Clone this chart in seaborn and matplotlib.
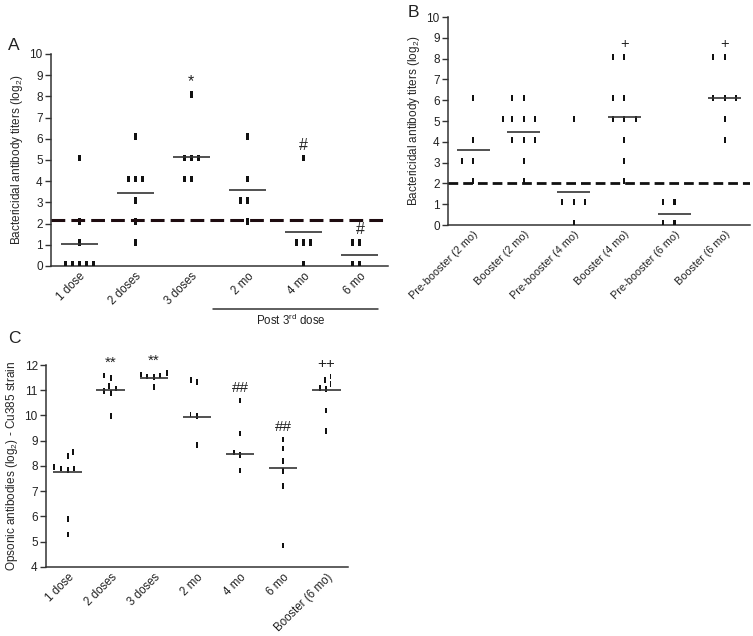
import numpy as np
import pandas as pd
import seaborn as sns
import matplotlib.pyplot as plt

# Panel A - bactericidal titers (log2), primary series and follow-up
groups_a = ['1 dose', '2 doses', '3 doses', '2 mo', '4 mo', '6 mo']
titers_a = [
    [0.1, 0.1, 0.1, 0.1, 0.1, 1.1, 2.1, 5.1],
    [1.1, 2.1, 3.1, 4.1, 4.1, 4.1, 6.1],
    [4.1, 4.1, 5.1, 5.1, 5.1, 8.1],
    [2.1, 3.1, 3.1, 4.1, 6.1],
    [0.1, 1.1, 1.1, 1.1, 5.1],
    [0.1, 0.1, 1.1, 1.1],
]
means_a = [1.03, 3.43, 5.16, 3.6, 1.61, 0.52]
marks_a = ['', '', '*', '', '#', '#']
cutoff_a = 2.15

# Panel B - bactericidal titers before / after booster
groups_b = ['Pre-booster (2 mo)', 'Booster (2 mo)', 'Pre-booster (4 mo)',
            'Booster (4 mo)', 'Pre-booster (6 mo)', 'Booster (6 mo)']
titers_b = [
    [2.1, 3.1, 3.1, 4.1, 6.1],
    [2.1, 3.1, 4.1, 4.1, 4.1, 5.1, 5.1, 5.1, 5.1, 6.1, 6.1],
    [0.1, 1.1, 1.1, 1.1, 5.1],
    [2.1, 3.1, 4.1, 5.1, 5.1, 5.1, 6.1, 6.1, 8.1, 8.1],
    [0.1, 0.1, 1.1, 1.1],
    [4.1, 5.1, 6.1, 6.1, 6.1, 8.1, 8.1],
]
means_b = [3.6, 4.49, 1.6, 5.17, 0.53, 6.11]
marks_b = ['', '', '', '+', '', '+']
cutoff_b = 2.0

# Panel C - opsonic antibodies (log2), Cu385 strain
groups_c = ['1 dose', '2 doses', '3 doses', '2 mo', '4 mo', '6 mo', 'Booster (6 mo)']
titers_c = [
    [8.55, 8.4, 7.9, 7.95, 7.85, 7.9, 5.9, 5.28],
    [11.58, 11.49, 11.16, 11.07, 10.96, 10.9, 9.97],
    [11.68, 11.62, 11.58, 11.55, 11.53, 11.12],
    [11.4, 11.32, 10.04, 9.97, 8.83],
    [10.59, 9.29, 8.53, 8.43, 7.83],
    [9.05, 8.7, 8.2, 7.8, 7.2, 4.85],
    [11.55, 11.4, 11.25, 11.09, 11.05, 10.2, 9.38],
]
means_c = [7.77, 11.0, 11.49, 9.95, 8.46, 7.92, 11.0]
marks_c = ['', '**', '**', '', '##', '##', '++']

sns.set_style('ticks')
plt.rcParams['font.family'] = ['Liberation Sans', 'DejaVu Sans']
plt.rcParams['mathtext.fontset'] = 'custom'
plt.rcParams['mathtext.rm'] = 'Liberation Sans'
plt.rcParams['mathtext.it'] = 'Liberation Sans:italic'
plt.rcParams['axes.edgecolor'] = '#333333'
plt.rcParams['axes.linewidth'] = 1.1
plt.rcParams['text.color'] = '#222222'


def long_df(groups, values):
    rows = [(g, v) for g, vals in zip(groups, values) for v in vals]
    return pd.DataFrame(rows, columns=['group', 'value'])


def draw_panel(ax, groups, values, means, marks, size, spread, bar_w, mark_size, mark_pad,
               xlab_size=8.3):
    df = long_df(groups, values)
    bar = [(-bar_w, -0.5), (bar_w, -0.5), (bar_w, 0.5), (-bar_w, 0.5)]
    sns.swarmplot(data=df, x='group', y='value', order=groups, ax=ax, color='#111111',
                  marker=bar, size=size, linewidth=spread, edgecolor='none', zorder=3)
    xs = np.arange(len(groups))
    ax.hlines(means, xs - 0.33, xs + 0.33, color='#333333', lw=1.2, zorder=4)
    for x, vals, m in zip(xs, values, marks):
        if m:
            ax.text(x, max(vals) + mark_pad, m, ha='center', va='center',
                    fontsize=mark_size, color='#222222', clip_on=False)
    ax.set_xlim(-0.5, len(groups) - 0.5)
    ax.set_xlabel('')
    ax.set_xticks(xs)
    ax.set_xticklabels(groups, rotation=45, ha='right', rotation_mode='anchor')
    ax.tick_params(axis='x', length=0, pad=3, labelsize=xlab_size, labelcolor='#222222')
    ax.tick_params(axis='y', length=4, width=1, color='#333333', labelsize=8.5,
                   labelcolor='#222222', pad=2)
    sns.despine(ax=ax)


fig = plt.figure(figsize=(7.53, 6.36), dpi=100)
ax_a = fig.add_axes([0.0677, 0.5818, 0.4475, 0.3333])
ax_b = fig.add_axes([0.595, 0.6462, 0.401, 0.327])
ax_c = fig.add_axes([0.0611, 0.1085, 0.401, 0.3176])

# A
draw_panel(ax_a, groups_a, titers_a, means_a, marks_a, size=4.8, spread=0.0,
           bar_w=0.22, mark_size=11.5, mark_pad=0.6)
ax_a.axhline(cutoff_a, color='#1e0c10', lw=2.2, ls=(0, (4.5, 2.0)), zorder=5)
ax_a.set_ylim(0, 10)
ax_a.set_yticks(range(0, 11))
ax_a.set_ylabel('Bactericidal antibody titers (log$_2$)', fontsize=8.5, labelpad=3)
ax_a.plot([2.39, 5.32], [-0.205, -0.205], color='#333333', lw=1.1,
          transform=ax_a.get_xaxis_transform(), clip_on=False)
ax_a.text(3.77, -0.22, 'Post 3$^{\\mathrm{rd}}$ dose', ha='center', va='top', fontsize=8.3,
          transform=ax_a.get_xaxis_transform())

# B
draw_panel(ax_b, groups_b, titers_b, means_b, marks_b, size=4.3, spread=3.5,
           bar_w=0.17, mark_size=10.5, mark_pad=0.62, xlab_size=7.8)
ax_b.axhline(cutoff_b, color='#111111', lw=2.0, ls=(0, (3.5, 1.8)), zorder=5)
ax_b.set_ylim(0, 10)
ax_b.set_yticks(range(0, 11))
ax_b.set_ylabel('Bactericidal antibody titers (log$_2$)', fontsize=8.5, labelpad=3)

# C
draw_panel(ax_c, groups_c, titers_c, means_c, marks_c, size=4.0, spread=0.6,
           bar_w=0.17, mark_size=11, mark_pad=0.5)
ax_c.set_ylim(4, 12)
ax_c.set_yticks(range(4, 13))
ax_c.set_ylabel('Opsonic antibodies (log$_2$) - Cu385 strain', fontsize=8.5, labelpad=3)

fig.text(0.011, 0.929, 'A', fontsize=12.5, va='center', ha='left')
fig.text(0.541, 0.981, 'B', fontsize=12.5, va='center', ha='left')
fig.text(0.011, 0.468, 'C', fontsize=12.5, va='center', ha='left')

fig.savefig('out.png', dpi=100)
